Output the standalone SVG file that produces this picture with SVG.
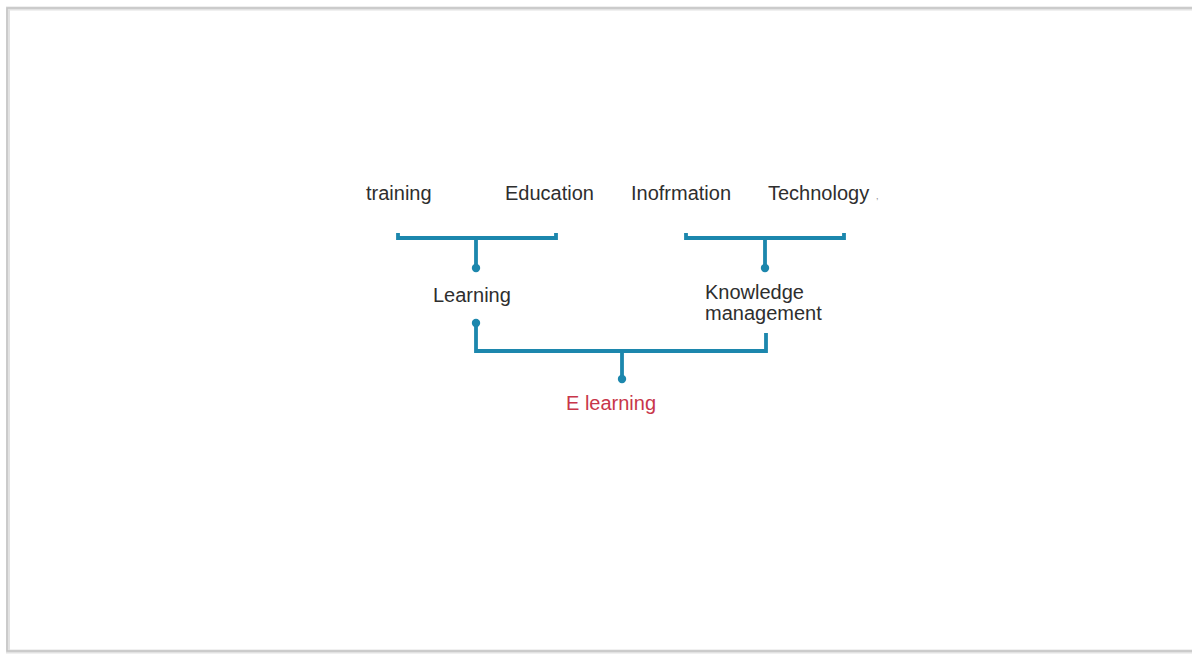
<svg xmlns="http://www.w3.org/2000/svg" width="1192" height="655" viewBox="0 0 1192 655">
<style>
.t{font-family:"Liberation Sans",Arial,sans-serif;font-size:20px;fill:#2e2e2e}
.r{fill:#c8364a}
.c{fill:none;stroke:#1c87ad;stroke-width:3.8;stroke-linejoin:miter}
.d{fill:#1c87ad}
</style>
<rect width="1192" height="655" fill="#fff"/>
<rect x="8" y="8.5" width="1200" height="643" fill="none" stroke="#e2e2e2" stroke-width="4"/>
<rect x="7" y="8" width="1200" height="643" fill="none" stroke="#c4c4c4" stroke-width="1.5"/>
<g id="connectors">
<path class="c" d="M398 233V238H556V233M476 238V268"/>
<path class="c" d="M686 233V238H844V233M765 238V268"/>
<path class="c" d="M476 323V351H766V333M622 351V379"/>
<circle class="d" cx="476" cy="268" r="4.2"/>
<circle class="d" cx="765" cy="268" r="4.2"/>
<circle class="d" cx="476" cy="323" r="4.2"/>
<circle class="d" cx="622" cy="379" r="4.2"/>
</g>
<g id="training"><text class="t" x="366" y="200">training</text></g>
<g id="education"><text class="t" x="505" y="200">Education</text></g>
<g id="information"><text class="t" x="631" y="200">Inofrmation</text></g>
<g id="technology"><text class="t" x="768" y="200">Technology</text><text class="t" x="876" y="199" style="font-size:9px;fill:#888">,</text></g>
<g id="learning"><text class="t" x="433" y="302">Learning</text></g>
<g id="km"><text class="t" x="705" y="299">Knowledge</text><text class="t" x="705" y="320">management</text></g>
<g id="elearning"><text class="t r" x="566" y="410">E learning</text></g>
</svg>
